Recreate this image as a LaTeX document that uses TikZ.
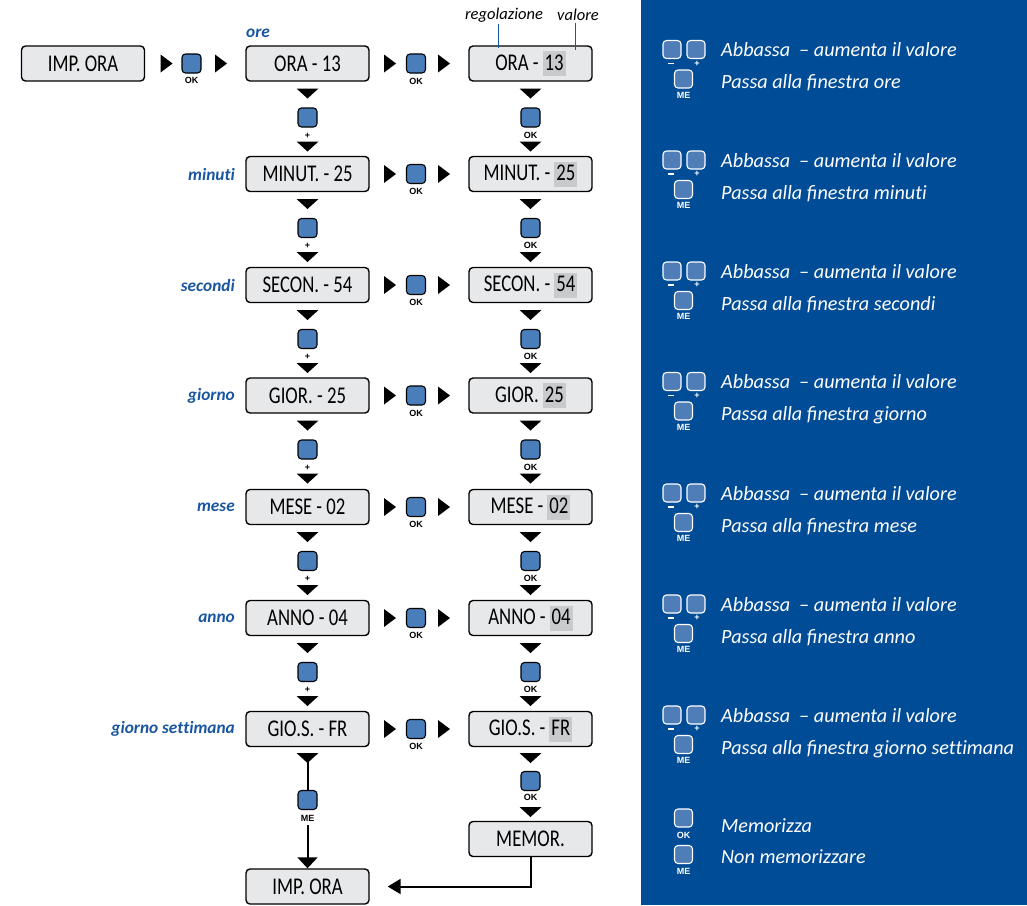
\documentclass[tikz,border=0pt]{standalone}
\usepackage{fontspec}
\setmainfont{Carlito}[Ligatures=NoCommon]
\newfontfamily\lcdfont{Carlito}[FakeStretch=0.78]
\newfontfamily\btnfont{Liberation Sans}
\usetikzlibrary{calc,arrows.meta}
\definecolor{panelblue}{HTML}{004C97}
\definecolor{lblblue}{HTML}{1A56A0}
\definecolor{btnblue}{HTML}{4A7EBB}
\definecolor{pbtnblue}{HTML}{4E7DB7}
\definecolor{lcdgray}{HTML}{E7E8EA}
\definecolor{valgray}{HTML}{C9CACC}
\newcommand{\val}[1]{{\setlength{\fboxsep}{2pt}\colorbox{valgray}{\rule[-4pt]{0pt}{21pt}#1}}}
\tikzset{
 lcd/.style={draw=black, line width=1.4pt, rounded corners=4pt, fill=lcdgray, minimum width=123pt, minimum height=35pt, inner sep=0pt, font=\lcdfont\fontsize{24}{26}\selectfont},
 btn/.style={draw=black, line width=1.1pt, rounded corners=3.5pt, fill=btnblue, minimum size=19pt, inner sep=0pt},
 btnlbl/.style={font=\btnfont\bfseries\fontsize{9}{9}\selectfont, inner sep=0pt},
 pbtn/.style={draw=white, line width=1.1pt, rounded corners=3.5pt, fill=pbtnblue, minimum size=18pt, inner sep=0pt},
 pbtnlbl/.style={btnlbl, text=white},
 tag/.style={font=\bfseries\itshape\fontsize{17.3}{19}\selectfont, text=lblblue, inner sep=0pt},
 note/.style={font=\itshape\fontsize{16.5}{18}\selectfont, inner sep=0pt},
 ptext/.style={font=\itshape\fontsize{20.2}{24}\selectfont, text=white, anchor=base west, inner sep=0pt},
 link/.style={line width=2pt},
 rtri/.pic={\fill (-6,-9) -- (6,0) -- (-6,9) -- cycle;},
 dtri/.pic={\fill (-11,-5) -- (11,-5) -- (0,5) -- cycle;},
}
\begin{document}
\begin{tikzpicture}[x=1pt,y=-1pt]
\useasboundingbox (0,0) rectangle (1027,905);
% right panel
\fill[panelblue] (641,0) rectangle (1027,905);

% first box and its OK step
\node[lcd] (imp1) at (83,63.5) {IMP. ORA};
\pic at (166.5,63.5) {rtri};
\node[btn] (okA) at (191.5,63.5) {};
\node[btnlbl] (okAl) at (191.5,80.5) {OK};
\pic at (221,63.5) {rtri};

% rows of boxes
\foreach \i/\y/\ta/\tb/\v in {
 0/63.5/{ORA - 13}/{ORA -}/13,
 1/174/{MINUT. - 25}/{MINUT. -}/25,
 2/285/{SECON. - 54}/{SECON. -}/54,
 3/395.5/{GIOR. - 25}/{GIOR.}/25,
 4/507/{MESE - 02}/{MESE -}/02,
 5/618/{ANNO - 04}/{ANNO -}/04,
 6/729/{GIO.S. - FR}/{GIO.S. -}/FR}{
 \node[lcd] (a\i) at (307.5,\y) {\ta};
 \node[lcd] (b\i) at (530.5,\y) {\tb\,\val{\v}};
 \pic at (390,\y) {rtri};
 \node[btn] (h\i) at (416,\y) {};
 \node[btnlbl] (hl\i) at (416,\y+17.5) {OK};
 \pic at (444,\y) {rtri};
}

% vertical steps between rows
\foreach \i/\y in {0/63.5,1/174,2/285,3/395.5,4/507,5/618}{
 \pic at (307.5,\y+30) {dtri};
 \node[btn] (va\i) at (307.5,\y+54) {};
 \node[btnlbl] (val\i) at (307.5,\y+72) {+};
 \pic at (307.5,\y+83) {dtri};
 \pic at (530.5,\y+30) {dtri};
 \node[btn] (vb\i) at (530.5,\y+54) {};
 \node[btnlbl] (vbl\i) at (530.5,\y+71.5) {OK};
 \pic at (530.5,\y+83) {dtri};
}

% bottom part, left column
\node[lcd] (imp2) at (307.5,886.5) {IMP. ORA};
\pic at (307.5,758) {dtri};
\coordinate (tip) at (307.5,762);
\node[btn] (me) at (307.5,800) {};
\node[btnlbl] (mel) at (307.5,818) {ME};
\draw[link] (tip) -- (me.north);
\draw[link,-{Triangle[width=20pt,length=11pt]}] ([yshift=-4pt]mel.south) -- (imp2.north);

% bottom part, right column
\pic at (530.5,758) {dtri};
\node[btn] (okB) at (530.5,781) {};
\node[btnlbl] (okBl) at (530.5,797.5) {OK};
\pic at (530.5,812) {dtri};
\node[lcd] (mem) at (530.5,839) {MEMOR.};
\draw[link,-{Triangle[width=15pt,length=13pt]},shorten >=18pt] (mem.south) |- (imp2.east);

% tags
\node[tag,anchor=west] (t0) at (246,33) {ore};
\node[tag,anchor=east] (t1) at (235,174) {minuti};
\node[tag,anchor=east] (t2) at (235,285) {secondi};
\node[tag,anchor=east] (t3) at (235,395.5) {giorno};
\node[tag,anchor=east] (t4) at (235,507) {mese};
\node[tag,anchor=east] (t5) at (235,618) {anno};
\node[tag,anchor=east] (t6) at (235,729) {giorno settimana};

% notes
\node[note] (reg) at (504,15) {regolazione};
\node[note] (valn) at (578,15) {valore};
\coordinate (regp) at (498,48);
\coordinate (valp) at (575,50);
\draw[lblblue,line width=1pt] (reg.south -| regp) ++(0,2) -- (regp);
\draw[lblblue,line width=1pt] (valn.south -| valp) ++(0,2) -- (valp);

% panel legend rows
\foreach \i/\y/\w in {0/63.5/ore,1/174/minuti,2/285/secondi,3/395.5/giorno,4/507/mese,5/618/anno,6/729/giorno settimana}{
 \node[pbtn] (pm\i) at (672,\y-14) {};
 \node[pbtn] (pp\i) at (696,\y-14) {};
 \node[fill=white, minimum width=6pt, minimum height=1.4pt, inner sep=0pt] (pml\i) at (670.5,\y) {};
 \node[pbtnlbl] (ppl\i) at (697,\y) {+};
 \node[pbtn] (pe\i) at (683.5,\y+15.5) {};
 \node[pbtnlbl] (pel\i) at (683.5,\y+31.5) {ME};
 \node[ptext] (pa\i) at (721,\y-7) {Abbassa\hspace{0.45em}– aumenta il valore};
 \node[ptext] (pb\i) at (721,\y+25) {Passa alla ﬁnestra \w};
}
\node[pbtn] (lok) at (683.5,818) {};
\node[pbtnlbl] (lokl) at (683.5,835) {OK};
\node[pbtn] (lme) at (683.5,854.5) {};
\node[pbtnlbl] (lmel) at (683.5,871) {ME};
\node[ptext] (lt1) at (721,832) {Memorizza};
\node[ptext] (lt2) at (721,863) {Non memorizzare};
\end{tikzpicture}
\end{document}
